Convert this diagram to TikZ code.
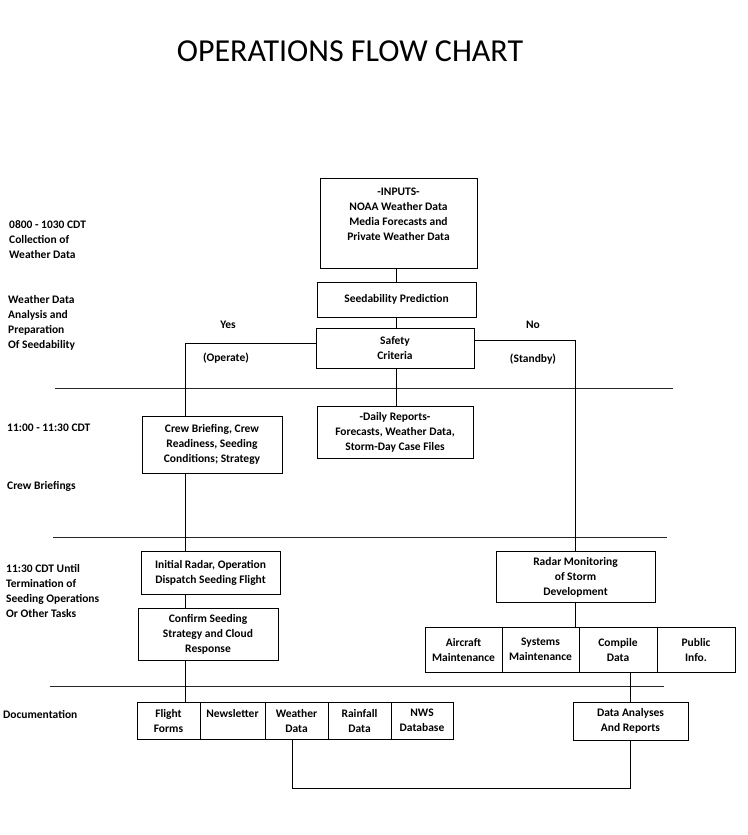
\documentclass[tikz,border=0pt]{standalone}
\usepackage{fontspec}
\setmainfont{Carlito}
\usetikzlibrary{positioning}
\begin{document}
\begin{tikzpicture}[x=1pt,y=-1pt,
	box/.style={draw, line width=0.9pt, align=center, inner sep=0pt, font=\bfseries\fontsize{11.5}{15}\selectfont},
	cell/.style={box, execute at begin node={\rule{0pt}{17pt}}},
	txt/.style={inner sep=0pt, align=center, font=\bfseries\fontsize{11.5}{15}\selectfont},
	lbl/.style={inner sep=0pt, align=left, anchor=west, font=\bfseries\fontsize{11.5}{15}\selectfont},
	rule/.style={line width=0.9pt, black!85},
	link/.style={line width=0.9pt}]
		\useasboundingbox (0,0) rectangle (747,835);
		\node[font=\fontsize{32}{38}\selectfont, inner sep=0pt] (title) at (350,51) {OPERATIONS FLOW CHART};
		\node[lbl] (l1) at (9,239.5) {0800 - 1030 CDT\\Collection of\\Weather Data};
		\node[lbl] (l2) at (8,323) {Weather Data\\Analysis and\\Preparation\\Of Seedability};
		\node[lbl] (l3) at (7,428) {11:00 - 11:30 CDT};
		\node[lbl] (l4) at (7,486) {Crew Briefings};
		\node[lbl] (l5) at (6,590.5) {11:30 CDT Until\\Termination of\\Seeding Operations\\Or Other Tasks};
		\node[lbl] (l6) at (3,714) {Documentation};
		\node[box, minimum width=157pt, minimum height=90pt] (inputs) at (398.5,223) {};
		\node[txt, below=10pt of inputs.north] (inputstxt) {-INPUTS-\\NOAA Weather Data\\Media Forecasts and\\Private Weather Data};
		\node[box, minimum width=159pt, minimum height=35pt] (seed) at (396.5,299.5) {Seedability Prediction};
		\node[box, minimum width=158pt, minimum height=40pt] (safety) at (395,348) {Safety\\Criteria};
		\node[txt] (yes) at (228,325) {Yes};
		\node[txt] (operate) at (226,358) {(Operate)};
		\node[txt] (no) at (533,325) {No};
		\node[txt] (standby) at (533,359) {(Standby)};
		\node[box, minimum width=156pt, minimum height=52pt] (daily) at (395,432) {-Daily Reports-\\Forecasts, Weather Data,\\Storm-Day Case Files};
		\node[box, minimum width=140pt, minimum height=57pt] (crew) at (212,444.5) {Crew Briefing, Crew\\Readiness, Seeding\\Conditions; Strategy};
		\node[box, minimum width=139pt, minimum height=43pt] (initial) at (210.5,572.5) {Initial Radar, Operation\\Dispatch Seeding Flight};
		\node[box, minimum width=140pt, minimum height=52pt] (confirm) at (208,634) {Confirm Seeding\\Strategy and Cloud\\Response};
		\node[box, minimum width=159pt, minimum height=51pt] (monitor) at (575.5,577) {Radar Monitoring\\of Storm\\Development};
		\node[cell, minimum width=77pt, minimum height=45pt] (aircraft) at (463.5,649.5) {Aircraft\\Maintenance};
		\node[cell, minimum width=77pt, minimum height=45pt] (systems) at (540.5,649.5) {Systems\\Maintenance};
		\node[cell, minimum width=78pt, minimum height=45pt] (compile) at (618,649.5) {Compile\\Data};
		\node[cell, minimum width=78pt, minimum height=45pt] (public) at (696,649.5) {Public\\Info.};
		\node[cell, minimum width=63pt, minimum height=37pt] (flight) at (168.5,720.5) {Flight\\Forms};
		\node[cell, minimum width=65pt, minimum height=37pt] (newsletter) at (232.5,720.5) {Newsletter\\~};
		\node[cell, minimum width=63pt, minimum height=37pt] (wdata) at (296.5,720.5) {Weather\\Data};
		\node[cell, minimum width=63pt, minimum height=37pt] (rainfall) at (359.5,720.5) {Rainfall\\Data};
		\node[cell, minimum width=62pt, minimum height=37pt] (nws) at (422,720.5) {NWS\\Database};
		\node[box, minimum width=115pt, minimum height=38pt] (analyses) at (630.5,721) {Data Analyses\\And Reports};
		\coordinate (spine) at (396.5,300);
		\coordinate (yesturn) at (185,343);
		\coordinate (noturn) at (575.5,340);
		\coordinate (ret) at (460,788);
		\draw[rule] (55,388) -- (673,388);
		\draw[rule] (53,537) -- (667,537);
		\draw[rule] (50,686) -- (664,686);
		\draw[link] (spine |- inputs.south) -- (seed.north);
		\draw[link] (seed.south) -- (spine |- safety.north);
		\draw[link] (spine |- safety.south) -- (spine |- daily.north);
		\draw[link] (safety.west |- yesturn) -- (yesturn) -- (yesturn |- crew.north);
		\draw[link] (yesturn |- crew.south) -- (yesturn |- initial.north);
		\draw[link] (yesturn |- initial.south) -- (yesturn |- confirm.north);
		\draw[link] (yesturn |- confirm.south) -- (yesturn |- flight.north);
		\draw[link] (safety.east |- noturn) -- (noturn) -- (monitor.north);
		\draw[link] (monitor.south) -- (monitor.south |- systems.north);
		\draw[link] (analyses.north) -- (analyses.north |- compile.south);
		\draw[link] ([xshift=-4.5pt]wdata.south) |- (ret) -| (analyses.south);
\end{tikzpicture}
\end{document}
